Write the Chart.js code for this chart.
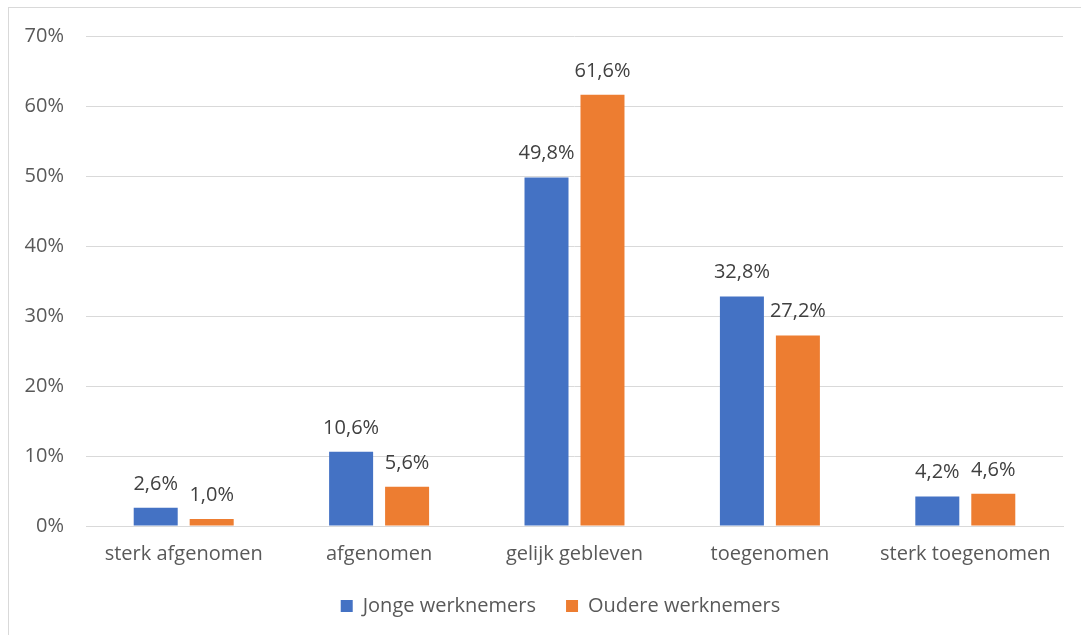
<!DOCTYPE html>
<html>
<head>
<meta charset="utf-8">
<script src="https://cdn.jsdelivr.net/npm/chart.js@4/dist/chart.umd.min.js"></script>
<style>
    html, body { margin: 0; padding: 0; background: #fff; overflow: hidden; }
    #frame {
        position: absolute; left: 8px; top: 7px; width: 1100px; height: 650px;
        border: 1px solid #d9d9d9; box-sizing: border-box;
    }
    #wrap { position: absolute; left: 0; top: 0; width: 1081px; height: 635px; }
</style>
</head>
<body>
<div id="frame"></div>
<div id="wrap"><canvas id="chart"></canvas></div>
<script>
    const categories = ['sterk afgenomen', 'afgenomen', 'gelijk gebleven', 'toegenomen', 'sterk toegenomen'];
    const jongeValues = [2.6, 10.6, 49.8, 32.8, 4.2];
    const oudereValues = [1.0, 5.6, 61.6, 27.2, 4.6];
    const yTicks = [0, 10, 20, 30, 40, 50, 60, 70];

    const textColor = '#595959';
    const fontFamily = "'Open Sans', 'Noto Sans', sans-serif";
    const fontSize = 20;

    // Draw value labels above each bar
    const valueLabels = {
        id: 'valueLabels',
        afterDatasetsDraw(chart) {
            const ctx = chart.ctx;
            ctx.save();
            ctx.font = fontSize + 'px ' + fontFamily;
            ctx.fillStyle = '#404040';
            ctx.textAlign = 'center';
            ctx.textBaseline = 'middle';
            chart.data.datasets.forEach((ds, i) => {
                chart.getDatasetMeta(i).data.forEach((bar, j) => {
                    const txt = ds.data[j].toFixed(1).replace('.', ',') + '%';
                    ctx.fillText(txt, bar.x, bar.y - 24);
                });
            });
            ctx.restore();
        }
    };

    // Legend in the original sits centred under the plot area, nudge it there
    const legendShift = {
        id: 'legendShift',
        afterLayout(chart) {
            const lg = chart.legend;
            lg.left += 19;
            lg.right += 19;
        }
    };

    new Chart(document.getElementById('chart'), {
        type: 'bar',
        data: {
            labels: categories,
            datasets: [
                { label: 'Jonge werknemers', data: jongeValues, backgroundColor: '#4472c4',
                  categoryPercentage: 0.573, barPercentage: 0.786 },
                { label: 'Oudere werknemers', data: oudereValues, backgroundColor: '#ed7d31',
                  categoryPercentage: 0.573, barPercentage: 0.786 }
            ]
        },
        options: {
            responsive: true,
            maintainAspectRatio: false,
            animation: false,
            layout: { padding: { left: 20, right: 18, top: 36, bottom: 9 } },
            scales: {
                x: {
                    afterFit(scale) { scale.height = 40; },
                    grid: { display: false, drawTicks: false },
                    border: { color: '#d9d9d9' },
                    ticks: { color: textColor, font: { family: fontFamily, size: fontSize }, padding: 16, maxRotation: 0 }
                },
                y: {
                    min: 0, max: 70,
                    afterFit(scale) { scale.width = 66; },
                    afterBuildTicks(scale) { scale.ticks = yTicks.map(v => ({ value: v })); },
                    grid: { color: '#d9d9d9', drawTicks: false },
                    border: { display: false },
                    ticks: {
                        color: textColor, padding: 22,
                        font: { family: fontFamily, size: fontSize },
                        callback: v => v + '%'
                    }
                }
            },
            plugins: {
                legend: {
                    position: 'bottom',
                    labels: {
                        color: textColor, boxWidth: 12, boxHeight: 12, padding: 30,
                        font: { family: fontFamily, size: fontSize }
                    }
                },
                tooltip: { enabled: false }
            }
        },
        plugins: [valueLabels, legendShift]
    });
</script>
</body>
</html>
